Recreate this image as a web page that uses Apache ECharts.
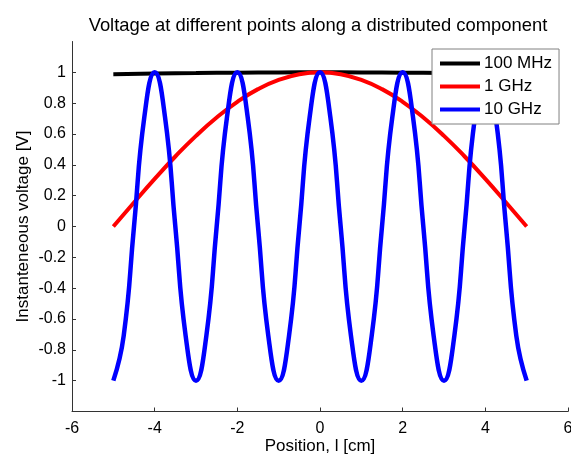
<!DOCTYPE html>
<html>
<head>
<meta charset="utf-8">
<script src="https://cdn.jsdelivr.net/npm/echarts@6/dist/echarts.min.js"></script>
<style>
  html, body { margin: 0; padding: 0; background: #fff; }
  #main { width: 571px; height: 457px; }
</style>
</head>
<body>
<div id="main"></div>
<script>
// 位置 (cm)，10 GHz 曲线用细一点的采样
var finePos = [
    -5, -4.75, -4.5, -4.25, -4, -3.75, -3.5, -3.25,
    -3, -2.75, -2.5, -2.25, -2, -1.75, -1.5, -1.25,
    -1, -0.75, -0.5, -0.25, 0, 0.25, 0.5, 0.75,
    1, 1.25, 1.5, 1.75, 2, 2.25, 2.5, 2.75,
    3, 3.25, 3.5, 3.75, 4, 4.25, 4.5, 4.75, 5
];
var halfPos = [-5, -4.5, -4, -3.5, -3, -2.5, -2, -1.5, -1, -0.5, 0,
               0.5, 1, 1.5, 2, 2.5, 3, 3.5, 4, 4.5, 5];
var coarsePos = [-5, -4, -3, -2, -1, 0, 1, 2, 3, 4, 5];

// 读图得到的电压值 (V)
var v10GHz = [
    -1, -0.71, 0, 0.71, 1, 0.71, 0, -0.71,
    -1, -0.71, 0, 0.71, 1, 0.71, 0, -0.71,
    -1, -0.71, 0, 0.71, 1, 0.71, 0, -0.71,
    -1, -0.71, 0, 0.71, 1, 0.71, 0, -0.71,
    -1, -0.71, 0, 0.71, 1, 0.71, 0, -0.71, -1
];
var v1GHz = [0, 0.156, 0.309, 0.454, 0.588, 0.707, 0.809, 0.891, 0.951, 0.988, 1,
             0.988, 0.951, 0.891, 0.809, 0.707, 0.588, 0.454, 0.309, 0.156, 0];
var v100MHz = [0.988, 0.992, 0.995, 0.998, 0.9995, 1, 0.9995, 0.998, 0.995, 0.992, 0.988];

var yTicks = [-1, -0.8, -0.6, -0.4, -0.2, 0, 0.2, 0.4, 0.6, 0.8, 1];
var seriesNames = ['100 MHz', '1 GHz', '10 GHz'];

function pairs(xs, ys) {
    return xs.map(function (x, i) { return [x, ys[i]]; });
}

var font = 'Liberation Sans';

var option = {
    animation: false,
    title: {
        text: 'Voltage at different points along a distributed component',
        left: 313,
        top: 12,
        textAlign: 'center',
        textStyle: { fontFamily: font, fontSize: 18.4, fontWeight: 'normal', color: '#000' }
    },
    legend: {
        orient: 'vertical',
        left: 432,
        top: 49,
        data: seriesNames,
        icon: 'rect',
        itemWidth: 40,
        itemHeight: 4,
        itemGap: 6,
        padding: [6, 7, 6, 8],
        backgroundColor: '#fff',
        borderColor: '#808080',
        borderWidth: 1,
        textStyle: { fontFamily: font, fontSize: 17, color: '#000', lineHeight: 17, padding: [0, 0, 0, -1] }
    },
    grid: { left: 72, top: 41.5, right: 3, bottom: 45.5, containLabel: false, outerBoundsMode: 'none' },
    xAxis: {
        type: 'value',
        min: -6,
        max: 6,
        interval: 2,
        name: 'Position, l [cm]',
        nameLocation: 'middle',
        nameGap: 26,
        nameMoveOverlap: false,
        nameTextStyle: { fontFamily: font, fontSize: 17, color: '#000' },
        axisLine: { onZero: false, lineStyle: { color: '#333', width: 1 } },
        axisTick: { inside: true, length: 4, lineStyle: { color: '#333' } },
        axisLabel: { fontFamily: font, fontSize: 16, color: '#000', margin: 9 },
        splitLine: { show: false }
    },
    yAxis: {
        type: 'value',
        min: -1.2,
        max: 1.2,
        name: 'Instanteneous voltage [V]',
        nameLocation: 'middle',
        nameGap: 40,
        nameMoveOverlap: false,
        nameTextStyle: { fontFamily: font, fontSize: 17, color: '#000' },
        axisLine: { show: true, onZero: false, lineStyle: { color: '#333', width: 1 } },
        axisTick: { show: true, inside: true, length: 4, customValues: yTicks, lineStyle: { color: '#333' } },
        axisLabel: {
            fontFamily: font, fontSize: 16, color: '#000', margin: 6,
            customValues: yTicks,
            formatter: function (v) { return String(Math.round(v * 10) / 10); }
        },
        splitLine: { show: false }
    },
    series: [
        {
            name: '100 MHz', type: 'line', data: pairs(coarsePos, v100MHz),
            smooth: true, showSymbol: false, color: '#000',
            lineStyle: { width: 4, color: '#000' }
        },
        {
            name: '1 GHz', type: 'line', data: pairs(halfPos, v1GHz),
            smooth: true, showSymbol: false, color: '#ff0000',
            lineStyle: { width: 4, color: '#ff0000' }
        },
        {
            name: '10 GHz', type: 'line', data: pairs(finePos, v10GHz),
            smooth: true, showSymbol: false, color: '#0000ff',
            lineStyle: { width: 4.5, color: '#0000ff' }
        }
    ]
};

var myChart = echarts.init(document.getElementById('main'));
myChart.setOption(option);
</script>
</body>
</html>
